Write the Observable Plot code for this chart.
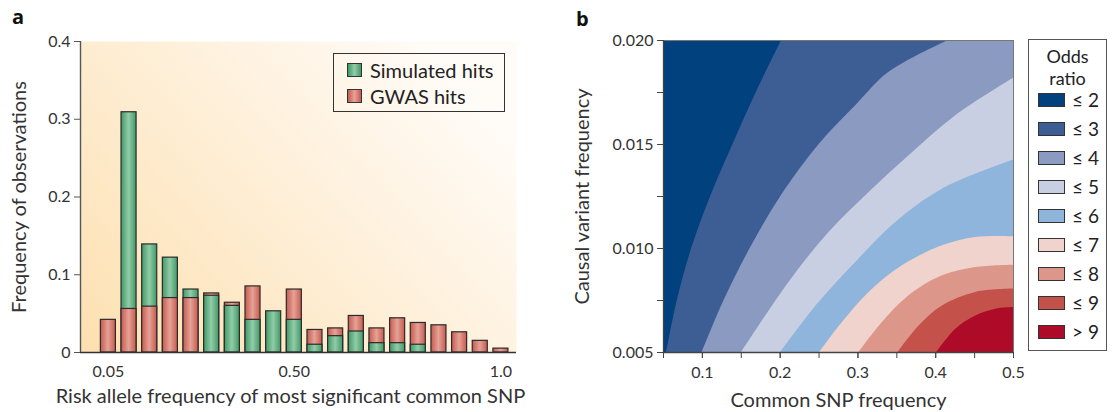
<!DOCTYPE html>
<html>
<head>
<meta charset="utf-8">
<script src="https://cdn.jsdelivr.net/npm/d3@7"></script>
<script src="https://cdn.jsdelivr.net/npm/@observablehq/plot@0.6"></script>
<style>
  html, body { margin: 0; padding: 0; background: #fff; }
  body { width: 1112px; height: 412px; position: relative; overflow: hidden; font-family: Lato, "Open Sans", sans-serif; color: #222; }
  .panel { position: absolute; top: 0; }
  .tag { position: absolute; font-weight: bold; font-size: 20px; line-height: 20px; font-family: "Open Sans", Lato, sans-serif; color: #111; }
  .legA { position: absolute; left: 333px; top: 53px; width: 170px; height: 57px; border: 1.5px solid #333; }
  .legA .row { position: absolute; left: 13px; display: flex; align-items: center; font-size: 20px; line-height: 22px; color: #222; }
  .legA .sw { width: 15px; height: 14px; border: 1.2px solid #333; box-sizing: border-box; margin-right: 8px; }
  .legB { position: absolute; left: 1028px; top: 39px; width: 79px; height: 312px; border: 1.2px solid #555; box-sizing: border-box; }
  .legB .title { position: absolute; left: 0; width: 100%; text-align: center; font-size: 18px; line-height: 18px; color: #222; }
  .legB .row { position: absolute; left: 9px; display: flex; align-items: center; font-size: 19px; line-height: 20px; color: #222; }
  .legB .sw { width: 27px; height: 14px; border: 1.2px solid #333; box-sizing: border-box; margin-right: 7px; }
</style>
</head>
<body>
<svg width="0" height="0" style="position:absolute">
  <defs>
    <linearGradient id="gGreen" x1="0" x2="1" y1="0" y2="0">
      <stop offset="0" stop-color="#3e9a66"/>
      <stop offset="0.5" stop-color="#93cba8"/>
      <stop offset="1" stop-color="#3e9a66"/>
    </linearGradient>
    <linearGradient id="gRed" x1="0" x2="1" y1="0" y2="0">
      <stop offset="0" stop-color="#c65a50"/>
      <stop offset="0.5" stop-color="#e6a296"/>
      <stop offset="1" stop-color="#c65a50"/>
    </linearGradient>
    <linearGradient id="gBg" x1="0" y1="1" x2="1" y2="0.35">
      <stop offset="0" stop-color="#fde0b0"/>
      <stop offset="0.45" stop-color="#feecd0"/>
      <stop offset="1" stop-color="#fffbf6"/>
    </linearGradient>
  </defs>
</svg>
<div id="pa" class="panel" style="left:0"></div>
<div id="pb" class="panel" style="left:560px"></div>
<div class="tag" style="left:12px; top:7px;">a</div>
<div class="tag" style="left:576px; top:9px;">b</div>
<div id="legA" class="legA"></div>
<div id="legB" class="legB"></div>
<script>
// ---------- Panel a data ----------
const bins = [0.05, 0.10, 0.15, 0.20, 0.25, 0.30, 0.35, 0.40, 0.45, 0.50,
              0.55, 0.60, 0.65, 0.70, 0.75, 0.80, 0.85, 0.90, 0.95, 1.00];
const simulatedHits = [0, 0.309, 0.139, 0.122, 0.081, 0.073, 0.060, 0.042, 0.053, 0.042,
                       0.010, 0.021, 0.027, 0.012, 0.012, 0.010, 0, 0, 0, 0];
const gwasHits = [0.042, 0.056, 0.059, 0.070, 0.070, 0.076, 0.064, 0.085, 0, 0.081,
                  0.029, 0.031, 0.047, 0.031, 0.044, 0.038, 0.035, 0.026, 0.015, 0.005];
const seriesNames = ["Simulated hits", "GWAS hits"];
const seriesFills = ["url(#gGreen)", "url(#gRed)"];
const xTicksA = [0.05, 0.50, 1.0];
const xTickLabelsA = ["0.05", "0.50", "1.0"];
const yTicksA = [0, 0.1, 0.2, 0.3, 0.4];
const yTickLabelsA = ["0", "0.1", "0.2", "0.3", "0.4"];
const xTitleA = "Risk allele frequency of most significant common SNP";
const yTitleA = "Frequency of observations";

// ---------- Panel b data (odds-ratio band boundaries: [SNP freq, causal freq]) ----------
const orLevels = [2, 3, 4, 5, 6, 7, 8, 9];
const orLabels = ["\u2264 2", "\u2264 3", "\u2264 4", "\u2264 5", "\u2264 6", "\u2264 7", "\u2264 8", "\u2264 9", "> 9"];
const orColors = ["#00417e", "#3d5e95", "#8a9ac1", "#c9cfe3", "#8fb5dc", "#f0d3cc", "#dc968a", "#c4524b", "#ae0b28"];
const boundaryOR2 = [[0.054,0.005],[0.0676,0.00747],[0.086,0.00997],[0.1105,0.01249],[0.1392,0.01499],[0.1693,0.0175],[0.2019,0.020]];
const boundaryOR3 = [[0.0998,0.005],[0.1276,0.00747],[0.1611,0.00997],[0.2006,0.01249],[0.2499,0.01499],[0.2971,0.01686],[0.340,0.01847],[0.4164,0.020]];
const boundaryOR4 = [[0.1504,0.005],[0.2113,0.00837],[0.2628,0.01077],[0.3143,0.01269],[0.3657,0.01446],[0.4258,0.01638],[0.5,0.01818]];
const boundaryOR5 = [[0.2006,0.005],[0.2499,0.0074],[0.2971,0.00933],[0.3486,0.01125],[0.4086,0.01285],[0.5,0.01425]];
const boundaryOR6 = [[0.2508,0.005],[0.280,0.00644],[0.3143,0.00789],[0.3572,0.00917],[0.4086,0.01013],[0.4515,0.01053],[0.5,0.01056]];
const boundaryOR7 = [[0.3014,0.005],[0.3314,0.00644],[0.3657,0.00773],[0.4086,0.00869],[0.4515,0.00909],[0.5,0.0092]];
const boundaryOR8 = [[0.3516,0.005],[0.3786,0.00628],[0.4086,0.00724],[0.4515,0.00789],[0.5,0.00805]];
const boundaryOR9 = [[0.4013,0.005],[0.4258,0.00612],[0.4515,0.00676],[0.4773,0.00708],[0.5,0.00716]];
const xDomainB = [0.05, 0.5];
const yDomainB = [0.005, 0.020];
const xTicksB = [0.05,0.10,0.15,0.20,0.25,0.30,0.35,0.40,0.45,0.50];
const xLabelTicksB = [0.1,0.2,0.3,0.4,0.5];
const yTicksB = [0.005,0.0075,0.010,0.0125,0.015,0.0175,0.020];
const yLabelTicksB = [0.005,0.010,0.015,0.020];
const xTitleB = "Common SNP frequency";
const yTitleB = "Causal variant frequency";
const legendTitleB = ["Odds", "ratio"];

// ---------- Panel a ----------
const halfW = 0.0182;
const barRows = bins.flatMap((b, i) => {
  const rows = [
    {bin: b, v: simulatedHits[i], fill: seriesFills[0]},
    {bin: b, v: gwasHits[i], fill: seriesFills[1]}
  ].filter(r => r.v > 0);
  return rows.sort((p, q) => q.v - p.v);   // taller bar drawn behind
});

const font = "Lato, 'Open Sans', sans-serif";
const xDomainA = [-0.0175, 1.0377];
const plotA = Plot.plot({
  width: 560, height: 412,
  marginLeft: 80, marginRight: 44, marginTop: 41, marginBottom: 60,
  style: {fontFamily: font, fontSize: "16px", color: "#333", background: "transparent"},
  x: {domain: xDomainA},
  y: {domain: [0, 0.4]},
  color: {type: "identity"},
  marks: [
    Plot.frame({fill: "url(#gBg)", stroke: "none"}),
    Plot.rect(barRows, {x1: d => d.bin - halfW, x2: d => d.bin + halfW, y1: 0, y2: "v",
      fill: "fill", stroke: "#2b2b2b", strokeWidth: 1.2}),
    Plot.ruleX([xDomainA[0]], {stroke: "#555", strokeWidth: 1.4}),
    Plot.ruleY([0], {stroke: "#333", strokeWidth: 1.6}),
    Plot.axisY(yTicksA, {tickSize: 6, tickPadding: 4, stroke: "#555", fill: "#333",
      tickFormat: (d, i) => yTickLabelsA[i], fontSize: 16, label: null}),
    Plot.axisX(xTicksA, {tickSize: 0, tickPadding: 13, fill: "#333",
      tickFormat: (d, i) => xTickLabelsA[i], fontSize: 16, label: null}),
    Plot.text([xTitleA], {text: d => d, frameAnchor: "bottom", lineAnchor: "middle", textAnchor: "middle",
      dy: 44, dx: -8, fontSize: 20, fill: "#333"}),
    Plot.text([yTitleA], {text: d => d, frameAnchor: "left", lineAnchor: "middle", textAnchor: "middle",
      rotate: -90, dx: -61, fontSize: 20, fill: "#333"})
  ]
});
document.getElementById("pa").appendChild(plotA);

// legend a
const legA = document.getElementById("legA");
seriesNames.forEach((name, i) => {
  const row = document.createElement("div");
  row.className = "row";
  row.style.top = (i === 0 ? 5 : 30.5) + "px";
  const sw = document.createElement("div");
  sw.className = "sw";
  sw.style.background = i === 0 ? "linear-gradient(90deg,#3e9a66,#93cba8,#3e9a66)" : "linear-gradient(90deg,#c65a50,#e6a296,#c65a50)";
  row.appendChild(sw);
  const t = document.createElement("span");
  t.textContent = name;
  row.appendChild(t);
  legA.appendChild(row);
});

// ---------- Panel b ----------
const boundaries = [boundaryOR2, boundaryOR3, boundaryOR4, boundaryOR5, boundaryOR6, boundaryOR7, boundaryOR8, boundaryOR9];
const bandMarks = boundaries.map((pts, i) =>
  Plot.areaX(pts, {y: d => d[1], x1: d => d[0], x2: xDomainB[1], fill: () => orLevels[i],
    curve: "catmull-rom", clip: true})
);

const plotB = Plot.plot({
  width: 552, height: 412,
  marginLeft: 103, marginRight: 99, marginTop: 40, marginBottom: 60,
  style: {fontFamily: font, fontSize: "16px", color: "#333", background: "transparent"},
  x: {domain: xDomainB},
  y: {domain: yDomainB},
  color: {type: "threshold", domain: orLevels, range: orColors},
  marks: [
    Plot.frame({fill: orColors[0], stroke: "none"}),
    ...bandMarks,
    Plot.frame({stroke: "#777", strokeWidth: 1}),
    Plot.ruleX([xDomainB[0]], {stroke: "#444", strokeWidth: 1.3}),
    Plot.ruleY([yDomainB[0]], {stroke: "#444", strokeWidth: 1.3}),
    Plot.axisX(xTicksB, {tickSize: 6, tickFormat: () => "", stroke: "#444", label: null}),
    Plot.axisX(xLabelTicksB, {tickSize: 6, tickPadding: 8, stroke: "#444", fill: "#333", fontSize: 16,
      tickFormat: d => d.toFixed(1), label: null}),
    Plot.axisY(yTicksB, {tickSize: 6, tickFormat: () => "", stroke: "#444", label: null}),
    Plot.axisY(yLabelTicksB, {tickSize: 6, tickPadding: 4, stroke: "#444", fill: "#333", fontSize: 16,
      tickFormat: d => d.toFixed(3), label: null}),
    Plot.text([xTitleB], {text: d => d, frameAnchor: "bottom", lineAnchor: "middle", textAnchor: "middle",
      dy: 48, fontSize: 20, fill: "#333"}),
    Plot.text([yTitleB], {text: d => d, frameAnchor: "left", lineAnchor: "middle", textAnchor: "middle",
      rotate: -90, dx: -81, fontSize: 20, fill: "#333"})
  ]
});
document.getElementById("pb").appendChild(plotB);

// legend b
const legB = document.getElementById("legB");
legendTitleB.forEach((w, i) => {
  const ttl = document.createElement("div");
  ttl.className = "title";
  ttl.style.top = (7 + i * 22) + "px";
  ttl.textContent = w;
  legB.appendChild(ttl);
});
orLabels.forEach((lab, i) => {
  const row = document.createElement("div");
  row.className = "row";
  row.style.top = (49.5 + i * 29.1) + "px";
  const sw = document.createElement("div");
  sw.className = "sw";
  sw.style.background = orColors[i];
  row.appendChild(sw);
  const t = document.createElement("span");
  t.textContent = lab;
  row.appendChild(t);
  legB.appendChild(row);
});
</script>
</body>
</html>
